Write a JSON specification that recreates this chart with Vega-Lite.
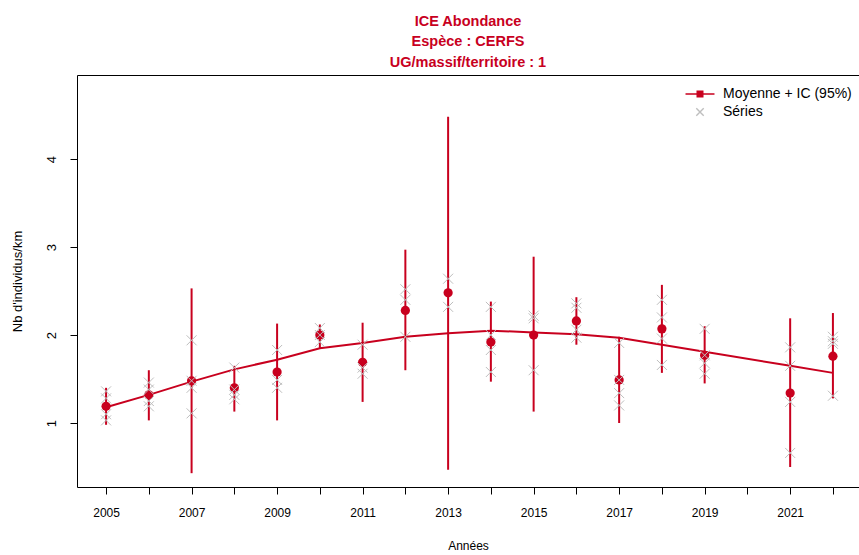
{
  "$schema": "https://vega.github.io/schema/vega-lite/v6.json",
  "width": 782,
  "height": 412,
  "autosize": {"type": "none"},
  "padding": {"left": 77, "top": 75, "right": 0, "bottom": 68},
  "background": "white",
  "config": {"view": {"stroke": null}, "font": "Liberation Sans"},
  "title": {
    "text": ["ICE Abondance", "Espèce : CERFS", "UG/massif/territoire : 1"],
    "color": "#C8001E",
    "fontSize": 14.5,
    "fontWeight": "bold",
    "font": "Liberation Sans",
    "anchor": "middle",
    "frame": "group",
    "lineHeight": 20.5,
    "offset": 5
  },
  "datasets": {
    "summary": [
      {"year": 2005, "mean": 1.19, "lo": 0.98, "hi": 1.40, "fit": 1.18},
      {"year": 2006, "mean": 1.32, "lo": 1.03, "hi": 1.60, "fit": 1.32},
      {"year": 2007, "mean": 1.48, "lo": 0.43, "hi": 2.53, "fit": 1.47},
      {"year": 2008, "mean": 1.40, "lo": 1.13, "hi": 1.65, "fit": 1.61},
      {"year": 2009, "mean": 1.58, "lo": 1.03, "hi": 2.13, "fit": 1.72},
      {"year": 2010, "mean": 2.00, "lo": 1.85, "hi": 2.12, "fit": 1.85},
      {"year": 2011, "mean": 1.69, "lo": 1.24, "hi": 2.14, "fit": 1.91},
      {"year": 2012, "mean": 2.28, "lo": 1.60, "hi": 2.97, "fit": 1.98},
      {"year": 2013, "mean": 2.48, "lo": 0.47, "hi": 4.48, "fit": 2.02},
      {"year": 2014, "mean": 1.92, "lo": 1.47, "hi": 2.38, "fit": 2.05},
      {"year": 2015, "mean": 2.00, "lo": 1.13, "hi": 2.89, "fit": 2.03},
      {"year": 2016, "mean": 2.16, "lo": 1.89, "hi": 2.43, "fit": 2.01},
      {"year": 2017, "mean": 1.49, "lo": 1.00, "hi": 1.98, "fit": 1.97},
      {"year": 2018, "mean": 2.07, "lo": 1.57, "hi": 2.57, "fit": 1.89},
      {"year": 2019, "mean": 1.77, "lo": 1.45, "hi": 2.10, "fit": 1.81},
      {"year": 2021, "mean": 1.34, "lo": 0.50, "hi": 2.19, "fit": 1.65},
      {"year": 2022, "mean": 1.76, "lo": 1.28, "hi": 2.25, "fit": 1.57}
    ],
    "series": [
      {"year": 2005, "value": 1.36, "kind": "Séries"},
      {"year": 2005, "value": 1.28, "kind": "Séries"},
      {"year": 2005, "value": 1.10, "kind": "Séries"},
      {"year": 2005, "value": 1.03, "kind": "Séries"},
      {"year": 2006, "value": 1.46, "kind": "Séries"},
      {"year": 2006, "value": 1.38, "kind": "Séries"},
      {"year": 2006, "value": 1.25, "kind": "Séries"},
      {"year": 2006, "value": 1.19, "kind": "Séries"},
      {"year": 2007, "value": 1.94, "kind": "Séries"},
      {"year": 2007, "value": 1.48, "kind": "Séries"},
      {"year": 2007, "value": 1.40, "kind": "Séries"},
      {"year": 2007, "value": 1.11, "kind": "Séries"},
      {"year": 2008, "value": 1.63, "kind": "Séries"},
      {"year": 2008, "value": 1.38, "kind": "Séries"},
      {"year": 2008, "value": 1.32, "kind": "Séries"},
      {"year": 2008, "value": 1.27, "kind": "Séries"},
      {"year": 2009, "value": 1.83, "kind": "Séries"},
      {"year": 2009, "value": 1.49, "kind": "Séries"},
      {"year": 2009, "value": 1.40, "kind": "Séries"},
      {"year": 2010, "value": 2.08, "kind": "Séries"},
      {"year": 2010, "value": 2.00, "kind": "Séries"},
      {"year": 2010, "value": 1.92, "kind": "Séries"},
      {"year": 2011, "value": 1.89, "kind": "Séries"},
      {"year": 2011, "value": 1.63, "kind": "Séries"},
      {"year": 2011, "value": 1.56, "kind": "Séries"},
      {"year": 2012, "value": 2.52, "kind": "Séries"},
      {"year": 2012, "value": 2.40, "kind": "Séries"},
      {"year": 2012, "value": 1.98, "kind": "Séries"},
      {"year": 2013, "value": 2.64, "kind": "Séries"},
      {"year": 2013, "value": 2.32, "kind": "Séries"},
      {"year": 2014, "value": 2.32, "kind": "Séries"},
      {"year": 2014, "value": 2.00, "kind": "Séries"},
      {"year": 2014, "value": 1.83, "kind": "Séries"},
      {"year": 2014, "value": 1.58, "kind": "Séries"},
      {"year": 2015, "value": 2.22, "kind": "Séries"},
      {"year": 2015, "value": 2.19, "kind": "Séries"},
      {"year": 2015, "value": 1.60, "kind": "Séries"},
      {"year": 2016, "value": 2.36, "kind": "Séries"},
      {"year": 2016, "value": 2.31, "kind": "Séries"},
      {"year": 2016, "value": 2.06, "kind": "Séries"},
      {"year": 2016, "value": 1.97, "kind": "Séries"},
      {"year": 2017, "value": 1.91, "kind": "Séries"},
      {"year": 2017, "value": 1.49, "kind": "Séries"},
      {"year": 2017, "value": 1.34, "kind": "Séries"},
      {"year": 2017, "value": 1.20, "kind": "Séries"},
      {"year": 2018, "value": 2.40, "kind": "Séries"},
      {"year": 2018, "value": 2.20, "kind": "Séries"},
      {"year": 2018, "value": 1.96, "kind": "Séries"},
      {"year": 2018, "value": 1.66, "kind": "Séries"},
      {"year": 2019, "value": 2.07, "kind": "Séries"},
      {"year": 2019, "value": 1.77, "kind": "Séries"},
      {"year": 2019, "value": 1.68, "kind": "Séries"},
      {"year": 2019, "value": 1.56, "kind": "Séries"},
      {"year": 2021, "value": 1.86, "kind": "Séries"},
      {"year": 2021, "value": 1.65, "kind": "Séries"},
      {"year": 2021, "value": 1.24, "kind": "Séries"},
      {"year": 2021, "value": 0.66, "kind": "Séries"},
      {"year": 2022, "value": 1.98, "kind": "Séries"},
      {"year": 2022, "value": 1.93, "kind": "Séries"},
      {"year": 2022, "value": 1.90, "kind": "Séries"},
      {"year": 2022, "value": 1.31, "kind": "Séries"}
    ]
  },
  "layer": [
    {
      "data": {"name": "summary"},
      "mark": {"type": "point", "opacity": 0},
      "encoding": {
        "x": {
          "field": "year", "type": "quantitative",
          "scale": {"domain": [2004.32, 2022.61], "nice": false, "zero": false},
          "axis": {"orient": "top", "labels": false, "ticks": false, "grid": false, "title": null, "domain": true, "domainColor": "#000000", "domainWidth": 1}
        },
        "y": {"field": "mean", "type": "quantitative"}
      }
    },
    {
      "data": {"name": "summary"},
      "mark": {"type": "line", "color": "#C8001E", "strokeWidth": 2},
      "encoding": {
        "x": {
          "field": "year", "type": "quantitative",
          "scale": {"domain": [2004.32, 2022.61], "nice": false, "zero": false},
          "axis": {
            "orient": "bottom",
            "values": [2005, 2006, 2007, 2008, 2009, 2010, 2011, 2012, 2013, 2014, 2015, 2016, 2017, 2018, 2019, 2020, 2021, 2022],
            "format": "d",
            "labelExpr": "datum.value % 2 == 1 ? datum.label : ''",
            "labelOverlap": false,
            "labelFlush": false,
            "grid": false,
            "tickSize": 7,
            "tickColor": "#000000",
            "domainColor": "#000000",
            "labelFont": "Liberation Sans",
            "labelFontSize": 12,
            "labelColor": "#000000",
            "labelPadding": 13,
            "title": "Années",
            "titleFont": "Liberation Sans",
            "titleFontSize": 12,
            "titleFontWeight": "normal",
            "titleColor": "#000000",
            "titlePadding": 22
          }
        },
        "y": {
          "field": "fit", "type": "quantitative",
          "scale": {"domain": [0.273, 4.955], "nice": false, "zero": false},
          "axis": {
            "values": [1, 2, 3, 4],
            "format": "d",
            "labelAngle": -90,
            "grid": false,
            "tickSize": 7,
            "tickColor": "#000000",
            "domainColor": "#000000",
            "labelFont": "Liberation Sans",
            "labelFontSize": 13,
            "labelColor": "#000000",
            "labelPadding": 12,
            "title": "Nb d'individus/km",
            "titleFont": "Liberation Sans",
            "titleFontSize": 13,
            "titleFontWeight": "normal",
            "titleColor": "#000000",
            "titlePadding": 21
          }
        }
      }
    },
    {
      "data": {"name": "summary"},
      "mark": {"type": "rule", "color": "#C8001E", "strokeWidth": 2},
      "encoding": {
        "x": {"field": "year", "type": "quantitative", "axis": null},
        "y": {"field": "lo", "type": "quantitative"},
        "y2": {"field": "hi"}
      }
    },
    {
      "data": {"name": "summary"},
      "mark": {"type": "point", "shape": "circle", "filled": true, "color": "#C8001E", "size": 85, "opacity": 1},
      "encoding": {
        "x": {"field": "year", "type": "quantitative", "axis": null},
        "y": {"field": "mean", "type": "quantitative"}
      }
    },
    {
      "data": {"name": "series"},
      "mark": {"type": "point", "size": 356, "strokeWidth": 1, "opacity": 1},
      "encoding": {
        "x": {"field": "year", "type": "quantitative", "axis": null},
        "y": {"field": "value", "type": "quantitative"},
        "shape": {
          "field": "kind", "type": "nominal",
          "scale": {
            "domain": ["Moyenne + IC (95%)", "Séries"],
            "range": ["M-2.07,0L2.07,0M-0.4,-0.4L0.4,-0.4L0.4,0.4L-0.4,0.4Z", "M-0.53,-0.53L0.53,0.53M-0.53,0.53L0.53,-0.53"]
          },
          "legend": {"title": null}
        },
        "fill": {
          "field": "kind", "type": "nominal",
          "scale": {"domain": ["Moyenne + IC (95%)", "Séries"], "range": ["#C8001E", "#BEBEBE"]},
          "legend": {"title": null}
        },
        "stroke": {
          "field": "kind", "type": "nominal",
          "scale": {"domain": ["Moyenne + IC (95%)", "Séries"], "range": ["#C8001E", "#BEBEBE"]},
          "legend": {
            "title": null,
            "orient": "none",
            "legendX": 615,
            "legendY": 11,
            "padding": 0,
            "symbolSize": 196,
            "symbolStrokeWidth": 1.4,
            "symbolOpacity": 1,
            "labelFont": "Liberation Sans",
            "labelFontSize": 14,
            "labelColor": "#000000",
            "labelOffset": 15,
            "rowPadding": 3
          }
        }
      }
    }
  ],
  "resolve": {"axis": {"x": "independent"}}
}
